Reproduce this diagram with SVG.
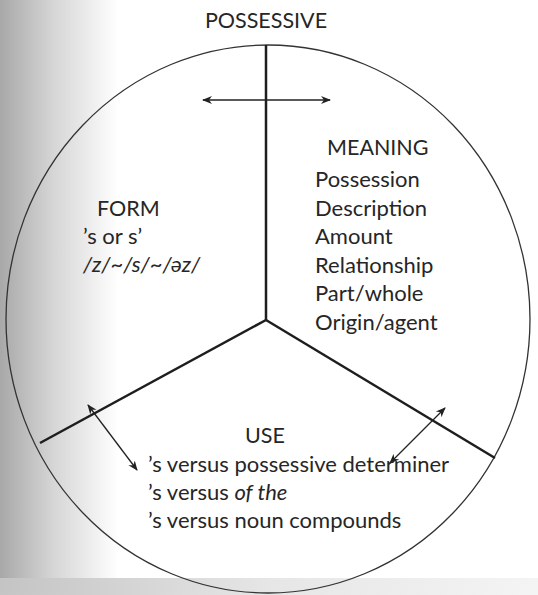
<svg xmlns="http://www.w3.org/2000/svg" width="538" height="595" viewBox="0 0 538 595">
<defs>
<linearGradient id="shade" x1="0" y1="0" x2="1" y2="0">
<stop offset="0" stop-color="#a8a8a8"/>
<stop offset="0.1" stop-color="#d6d6d6"/>
<stop offset="0.22" stop-color="#ffffff"/>
<stop offset="1" stop-color="#ffffff"/>
</linearGradient>
<linearGradient id="bottom" x1="0" y1="0" x2="1" y2="0">
<stop offset="0" stop-color="#c4c4c4"/>
<stop offset="0.5" stop-color="#e6e6e6"/>
<stop offset="1" stop-color="#f4f4f4"/>
</linearGradient>
<marker id="ah" viewBox="0 0 10 10" refX="9" refY="5" markerWidth="10" markerHeight="10" markerUnits="userSpaceOnUse" orient="auto-start-reverse">
<path d="M0,1 L10,5 L0,9 L3,5 Z" fill="#222"/>
</marker>
<style>
text{font-family:"Lato","Open Sans","Liberation Sans",sans-serif;fill:#262626;font-size:22px}
.cap{font-size:21.5px}
.it{font-style:italic}
.div{stroke:#1e1e1e;stroke-width:2.5;fill:none}
.arr{stroke:#222;stroke-width:1.3;fill:none;marker-start:url(#ah);marker-end:url(#ah)}
</style>
</defs>
<rect width="538" height="595" fill="url(#shade)"/>
<rect x="0" y="578" width="538" height="17" fill="url(#bottom)"/>
<g id="circle">
<ellipse cx="268" cy="319" rx="262" ry="274" fill="none" stroke="#333" stroke-width="1.3"/>
</g>
<g id="connectors">
<path class="div" d="M266,45 L266,320"/>
<path class="div" d="M266,320 L40,443"/>
<path class="div" d="M266,320 L495,458"/>
<path class="arr" d="M203,100 L330,100"/>
<path class="arr" d="M88,405 L137,470"/>
<path class="arr" d="M445,408 L390,463"/>
</g>
<g id="title"><text x="266" y="28" text-anchor="middle" class="cap">POSSESSIVE</text></g>
<g id="meaning">
<text x="327" y="155" class="cap">MEANING</text>
<text x="315" y="187">Possession</text>
<text x="315" y="215.5">Description</text>
<text x="315" y="244">Amount</text>
<text x="315" y="272.5">Relationship</text>
<text x="315" y="301">Part/whole</text>
<text x="315" y="329.5">Origin/agent</text>
</g>
<g id="form">
<text x="97" y="216" class="cap">FORM</text>
<text x="83" y="244">’s or s’</text>
<text x="83" y="272" class="it">/z/~/s/~/əz/</text>
</g>
<g id="use">
<text x="265" y="443" text-anchor="middle" class="cap">USE</text>
<text x="148" y="472">’s versus possessive determiner</text>
<text x="148" y="500">’s versus <tspan class="it">of the</tspan></text>
<text x="148" y="528">’s versus noun compounds</text>
</g>
</svg>
